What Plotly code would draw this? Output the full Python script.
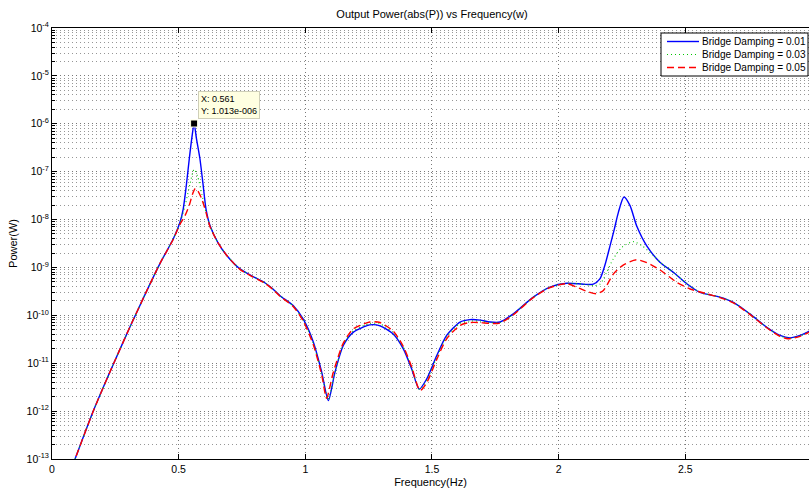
import numpy as np
import plotly.graph_objects as go

# Frequency (Hz) and log10 of output power (W) for each bridge damping ratio
freq_d001 = [0.080, 0.091, 0.163, 0.229, 0.308, 0.374, 0.426, 0.479, 0.505, 0.518,
             0.530, 0.542, 0.552, 0.561, 0.570, 0.584, 0.596, 0.608, 0.624, 0.655,
             0.690, 0.742, 0.790, 0.840, 0.870, 0.900, 0.953, 0.992, 1.032, 1.065,
             1.091, 1.117, 1.150, 1.190, 1.255, 1.295, 1.347, 1.387, 1.420, 1.450,
             1.479, 1.519, 1.558, 1.611, 1.650, 1.690, 1.729, 1.769, 1.821, 1.900,
             1.966, 2.032, 2.098, 2.137, 2.163, 2.183, 2.203, 2.220, 2.236, 2.258,
             2.282, 2.308, 2.348, 2.400, 2.453, 2.506, 2.558, 2.637, 2.690, 2.755,
             2.822, 2.874, 2.914, 2.953, 2.986, 3.000]
logp_d001 = [-13.15, -13.00, -12.00, -11.18, -10.24, -9.49, -8.92, -8.40, -8.06, -7.78,
             -7.30, -6.73, -6.30, -5.994, -6.30, -6.73, -7.25, -7.78, -8.13, -8.48,
             -8.75, -9.03, -9.18, -9.32, -9.44, -9.59, -9.80, -10.08, -10.56, -11.19,
             -11.78, -11.19, -10.63, -10.35, -10.20, -10.22, -10.39, -10.70, -11.12, -11.54,
             -11.33, -10.84, -10.42, -10.14, -10.09, -10.10, -10.14, -10.14, -9.97, -9.62,
             -9.41, -9.33, -9.35, -9.35, -9.24, -8.95, -8.55, -8.20, -7.85, -7.53,
             -7.71, -8.13, -8.55, -8.89, -9.10, -9.34, -9.52, -9.62, -9.73, -9.97,
             -10.25, -10.42, -10.47, -10.42, -10.34, -10.31]

freq_d003 = [0.080, 0.091, 0.163, 0.229, 0.308, 0.374, 0.426, 0.479, 0.505, 0.525,
             0.545, 0.561, 0.575, 0.592, 0.608, 0.624, 0.655, 0.690, 0.742, 0.790,
             0.840, 0.870, 0.900, 0.953, 0.992, 1.032, 1.065, 1.090, 1.117, 1.150,
             1.190, 1.255, 1.295, 1.347, 1.387, 1.420, 1.451, 1.479, 1.519, 1.558,
             1.611, 1.650, 1.690, 1.729, 1.769, 1.821, 1.900, 1.966, 2.032, 2.098,
             2.137, 2.163, 2.190, 2.216, 2.250, 2.295, 2.330, 2.374, 2.410, 2.440,
             2.506, 2.558, 2.637, 2.690, 2.755, 2.822, 2.874, 2.914, 2.953, 2.986,
             3.000]
logp_d003 = [-13.15, -13.00, -12.00, -11.18, -10.24, -9.49, -8.92, -8.40, -8.07, -7.72,
             -7.25, -6.95, -7.10, -7.48, -7.85, -8.14, -8.48, -8.75, -9.03, -9.18,
             -9.32, -9.44, -9.59, -9.81, -10.10, -10.59, -11.22, -11.75, -11.19, -10.61,
             -10.32, -10.17, -10.18, -10.36, -10.67, -11.10, -11.55, -11.36, -10.88, -10.45,
             -10.17, -10.12, -10.12, -10.15, -10.15, -9.98, -9.62, -9.41, -9.33, -9.35,
             -9.38, -9.35, -9.10, -8.82, -8.58, -8.46, -8.55, -8.75, -8.93, -9.05,
             -9.33, -9.52, -9.62, -9.73, -9.97, -10.25, -10.43, -10.48, -10.43, -10.35,
             -10.32]

freq_d005 = [0.080, 0.091, 0.163, 0.229, 0.308, 0.374, 0.426, 0.479, 0.505, 0.525,
             0.542, 0.556, 0.566, 0.578, 0.592, 0.608, 0.624, 0.655, 0.690, 0.742,
             0.790, 0.840, 0.870, 0.900, 0.953, 0.992, 1.032, 1.065, 1.084, 1.110,
             1.150, 1.190, 1.255, 1.295, 1.347, 1.387, 1.420, 1.453, 1.480, 1.519,
             1.558, 1.611, 1.650, 1.690, 1.729, 1.769, 1.821, 1.900, 1.966, 2.032,
             2.071, 2.111, 2.150, 2.177, 2.216, 2.255, 2.308, 2.361, 2.413, 2.466,
             2.519, 2.585, 2.637, 2.690, 2.755, 2.822, 2.874, 2.905, 2.953, 2.986,
             3.000]
logp_d005 = [-13.15, -13.00, -12.00, -11.18, -10.24, -9.49, -8.92, -8.41, -8.10, -7.92,
             -7.70, -7.45, -7.35, -7.42, -7.58, -7.85, -8.15, -8.48, -8.75, -9.04,
             -9.19, -9.33, -9.45, -9.60, -9.82, -10.12, -10.62, -11.25, -11.73, -11.20,
             -10.58, -10.28, -10.14, -10.15, -10.33, -10.65, -11.08, -11.57, -11.40, -10.92,
             -10.49, -10.21, -10.15, -10.15, -10.17, -10.16, -9.99, -9.63, -9.42, -9.34,
             -9.41, -9.50, -9.55, -9.48, -9.14, -8.95, -8.84, -8.93, -9.10, -9.31,
             -9.45, -9.55, -9.63, -9.74, -9.98, -10.26, -10.44, -10.49, -10.44, -10.36,
             -10.33]

series_names = ["Bridge Damping = 0.01", "Bridge Damping = 0.03", "Bridge Damping = 0.05"]

# Data cursor on the first resonance
cursor_freq = 0.561
cursor_power = 1.013e-6
cursor_text = "X: 0.561<br>Y: 1.013e-006"

x_tick_vals = [0, 0.5, 1, 1.5, 2, 2.5, 3]
x_tick_text = ["0", "0.5", "1", "1.5", "2", "2.5", "3"]
y_exponents = list(range(-13, -3))
y_tick_vals = [10.0 ** e for e in y_exponents]
y_tick_text = ["10<sup>%d</sup>" % e for e in y_exponents]
y_minor_vals = [m * 10.0 ** e for e in range(-13, -4) for m in range(2, 10)]

# ---- page geometry (pixels) ----
W, H = 809, 488
L, R, T, B = 52, 0, 28, 29
PW, PH = W - L - R, H - T - B
X_MAX = PW / 253.3          # axis continues past the right edge of the page


def px_x(px):
    return (px - L) / PW


def px_y(py):
    return 1 - (py - T) / PH


FONT = "Liberation Sans, Arial, Helvetica, sans-serif"
styles = [
    dict(color="rgb(0,0,255)", width=1.4, dash="solid"),
    dict(color="rgb(0,200,0)", width=1.1, dash="1px,3px"),
    dict(color="rgb(255,0,0)", width=1.4, dash="7px,4px"),
]

fig = go.Figure()
for f, lp, name, st in zip([freq_d001, freq_d003, freq_d005],
                           [logp_d001, logp_d003, logp_d005],
                           series_names, styles):
    fig.add_trace(go.Scatter(
        x=f, y=10.0 ** np.array(lp), mode="lines", name=name,
        line=dict(color=st["color"], width=st["width"], dash=st["dash"],
                  shape="spline", smoothing=0.7),
        showlegend=False, hoverinfo="skip"))

fig.add_trace(go.Scatter(
    x=[cursor_freq], y=[cursor_power], mode="markers", showlegend=False,
    marker=dict(symbol="square", size=7, color="black",
                line=dict(color="#ffffe1", width=1)),
    hoverinfo="skip"))

fig.add_annotation(
    x=cursor_freq, y=np.log10(cursor_power), xref="x", yref="y",
    text=cursor_text,
    showarrow=False, xanchor="left", yanchor="bottom", xshift=4, yshift=5,
    align="left", bgcolor="#ffffe1", bordercolor="#cfcfb8", borderwidth=1,
    borderpad=2, font=dict(family=FONT, size=9, color="black"))

# ---- legend box drawn in the upper-right corner ----
box = dict(x0=661, x1=808, y0=33, y1=76)
fig.add_shape(type="rect", xref="paper", yref="paper",
              x0=px_x(box["x0"]), x1=px_x(box["x1"]),
              y0=px_y(box["y1"]), y1=px_y(box["y0"]),
              line=dict(color="black", width=1), fillcolor="white", layer="above")
for i, (name, st) in enumerate(zip(series_names, styles)):
    ry = 41.5 + 13 * i
    fig.add_shape(type="line", xref="paper", yref="paper",
                  x0=px_x(667), x1=px_x(699), y0=px_y(ry), y1=px_y(ry),
                  line=dict(color=st["color"], width=st["width"], dash=st["dash"]),
                  layer="above")
    fig.add_annotation(x=px_x(701), y=px_y(ry), xref="paper", yref="paper",
                       text=name, showarrow=False, xanchor="left", yanchor="middle",
                       borderpad=0,
                       font=dict(family=FONT, size=10.1, color="black"))

grid_dash = "1px,3px"
fig.update_layout(
    width=W, height=H,
    margin=dict(l=L, r=R, t=T, b=B),
    paper_bgcolor="white", plot_bgcolor="white",
    font=dict(family=FONT, size=10.5, color="black"),
    title=dict(text="Output Power(abs(P)) vs Frequency(w)",
               x=432 / W, xref="container", xanchor="center",
               y=1 - 14 / H, yref="container", yanchor="middle",
               font=dict(family=FONT, size=11, color="black")),
    xaxis=dict(
        range=[0, X_MAX], tickmode="array", tickvals=x_tick_vals, ticktext=x_tick_text,
        ticks="inside", ticklen=5, tickcolor="black", tickwidth=1,
        showline=True, linecolor="black", linewidth=1, mirror="ticks",
        showgrid=True, gridcolor="rgb(120,120,120)", gridwidth=1, griddash=grid_dash,
        zeroline=False,
        title=dict(text="Frequency(Hz)", standoff=4,
                   font=dict(family=FONT, size=11))),
    yaxis=dict(
        type="log", range=[-13, -4], tickmode="array",
        tickvals=y_tick_vals, ticktext=y_tick_text,
        ticks="inside", ticklen=5, tickcolor="black", tickwidth=1,
        showline=True, linecolor="black", linewidth=1, mirror=False,
        showgrid=True, gridcolor="rgb(120,120,120)", gridwidth=1, griddash=grid_dash,
        zeroline=False,
        minor=dict(tickmode="array", tickvals=y_minor_vals, ticks="inside",
                   ticklen=3, tickcolor="black", showgrid=True,
                   gridcolor="rgb(150,150,150)", gridwidth=1, griddash=grid_dash),
        title=dict(text="Power(W)", standoff=6, font=dict(family=FONT, size=11))),
)

fig.write_html("out.html")
